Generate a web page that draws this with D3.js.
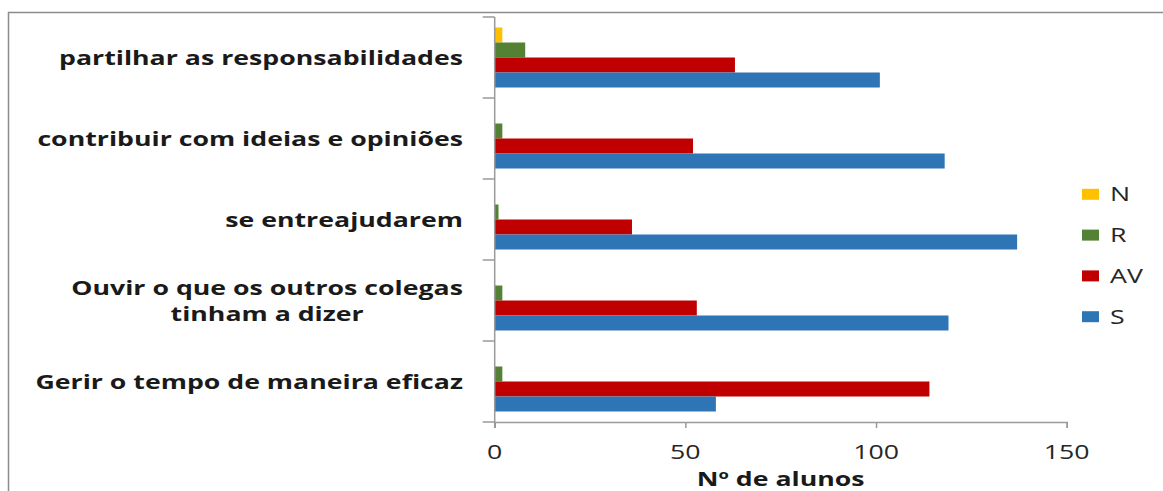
<!DOCTYPE html>
<html><head><meta charset="utf-8">
<script src="https://cdn.jsdelivr.net/npm/d3@7"></script>
<style>body{margin:0;background:#fff;overflow:hidden} svg{display:block}</style>
</head><body>
<script>
// ---- data ----
const categories = [
  "partilhar as responsabilidades",
  "contribuir com ideias e opiniões",
  "se entreajudarem",
  "Ouvir o que os outros colegas\ntinham a dizer",
  "Gerir o tempo de maneira eficaz"
];
const seriesNames = ["N", "R", "AV", "S"];
const valuesN  = [2, 0, 0, 0, 0];
const valuesR  = [8, 2, 1, 2, 2];
const valuesAV = [63, 52, 36, 53, 114];
const valuesS  = [101, 118, 137, 119, 58];
const xTicks = [0, 50, 100, 150];
const xTitle = "Nº de alunos";

// ---- styles ----
const colors = {N: "#FFC000", R: "#548235", AV: "#C00000", S: "#2E75B6"};
const FONT = "'Open Sans', 'DejaVu Sans', sans-serif";
const SX = 1.37; // horizontal stretch of the original text

const seriesValues = {N: valuesN, R: valuesR, AV: valuesAV, S: valuesS};
const W = 1163, H = 491;

const svg = d3.select("body").append("svg").attr("width", W).attr("height", H);

// outer frame (top and left edges visible)
svg.append("path").attr("d", `M8.5,${H} V12.5 H${W}`).attr("fill", "none")
  .attr("stroke", "#8c8c8c").attr("stroke-width", 1.5);

const x = d3.scaleLinear().domain([0, 150]).range([494.7, 1066.7]);
const y = d3.scaleBand().domain(categories).range([17, 422]).padding(0);
const yInner = d3.scaleBand().domain(seriesNames).range([0, y.bandwidth()]).paddingInner(0).paddingOuter(0.7);

function stretchedText(g, tx, ty, str, anchor, size, weight) {
  return g.append("text")
    .attr("transform", `translate(${tx},${ty}) scale(${SX},1)`)
    .attr("text-anchor", anchor)
    .attr("font-family", FONT).attr("font-size", size).attr("font-weight", weight)
    .attr("fill", "#1a1a1a")
    .text(str);
}

// bars
const gBars = svg.append("g");
categories.forEach((c, i) => {
  seriesNames.forEach(s => {
    const v = seriesValues[s][i];
    if (v <= 0) return;
    gBars.append("rect")
      .attr("x", x(0))
      .attr("y", y(c) + yInner(s))
      .attr("width", x(v) - x(0))
      .attr("height", yInner.bandwidth())
      .attr("fill", colors[s]);
  });
});

// y axis line + boundary ticks
const axisColor = "#9a9a9a";
const gy = svg.append("g");
gy.append("line").attr("x1", x(0)).attr("x2", x(0)).attr("y1", y.range()[0]).attr("y2", y.range()[1] + 6)
  .attr("stroke", axisColor).attr("stroke-width", 1.5);
const bounds = categories.map(c => y(c)).concat([y.range()[1]]);
bounds.forEach(b => {
  gy.append("line").attr("x1", x(0) - 12).attr("x2", x(0)).attr("y1", b).attr("y2", b)
    .attr("stroke", axisColor).attr("stroke-width", 1.5);
});

// x axis
const gx = svg.append("g").attr("transform", `translate(0,${y.range()[1]})`)
  .call(d3.axisBottom(x).tickValues(xTicks).tickSize(6).tickFormat(() => ""));
gx.select(".domain").attr("stroke", axisColor).attr("stroke-width", 1.5);
gx.selectAll(".tick line").attr("stroke", axisColor).attr("stroke-width", 1.5);
xTicks.forEach(t => {
  stretchedText(svg, x(t), 458.5, String(t), "middle", 19.5, 400).attr("fill", "#262626");
});
stretchedText(svg, (x(0) + x(150)) / 2, 486, xTitle, "middle", 19.5, 700);

// category labels
const gLab = svg.append("g");
const labelRight = 463;
categories.forEach(c => {
  const lines = c.split("\n");
  const cy = y(c) + y.bandwidth() / 2;
  if (lines.length === 1) {
    stretchedText(gLab, labelRight, cy + 7, lines[0], "end", 19.5, 700);
  } else {
    // measure widest line, center the block under it
    const tmp = lines.map(l => stretchedText(gLab, 0, 0, l, "start", 19.5, 700));
    const maxW = d3.max(tmp, t => t.node().getComputedTextLength()) * SX;
    tmp.forEach(t => t.remove());
    const lineH = 26;
    lines.forEach((l, k) => {
      const ly = cy + (k - (lines.length - 1) / 2) * lineH + 7;
      stretchedText(gLab, labelRight - maxW / 2, ly, l, "middle", 19.5, 700);
    });
  }
});

// legend
const ly = d3.scalePoint().domain(seriesNames).range([194.3, 316.7]);
const gLeg = svg.append("g");
seriesNames.forEach(s => {
  gLeg.append("rect").attr("x", 1082).attr("y", ly(s) - 5.5).attr("width", 17).attr("height", 11)
    .attr("fill", colors[s]);
  stretchedText(gLeg, 1110, ly(s) + 7, s, "start", 19.5, 400).attr("fill", "#262626");
});
</script>
</body></html>
